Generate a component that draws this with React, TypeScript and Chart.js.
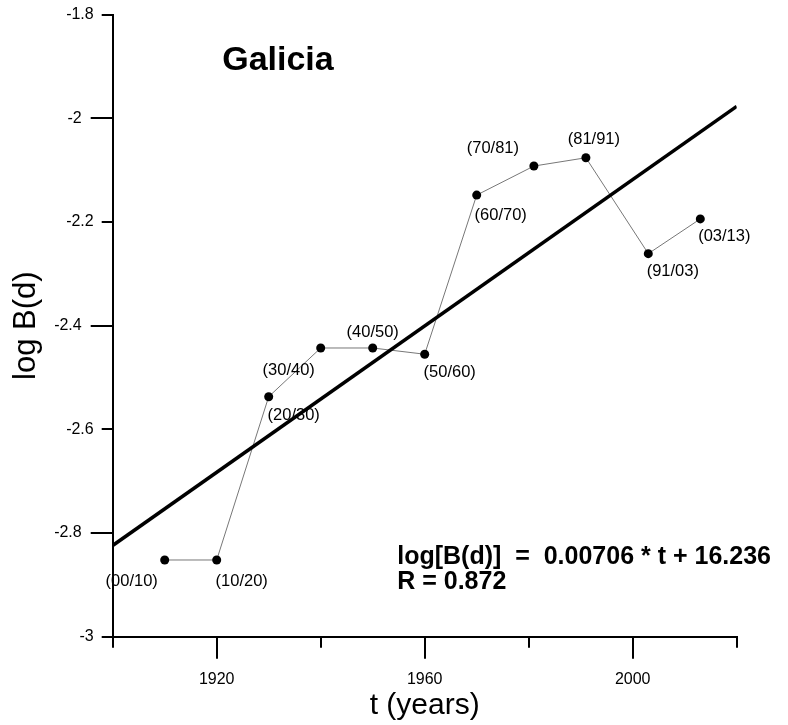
import React, { useEffect, useRef } from 'react';
import { Chart, registerables } from 'chart.js';

Chart.register(...registerables);

// ---- data ----
const periodLabels = ['(00/10)', '(10/20)', '(20/30)', '(30/40)', '(40/50)', '(50/60)', '(60/70)', '(70/81)', '(81/91)', '(91/03)', '(03/13)'];
const years = [1910, 1920, 1930, 1940, 1950, 1960, 1970, 1981, 1991, 2003, 2013];
const logB = [-2.852, -2.852, -2.537, -2.443, -2.443, -2.455, -2.148, -2.092, -2.076, -2.261, -2.194];
const fitYears = [1900, 2020];
const fitLogB = [-2.824, -1.977];
const xTicks = [1900, 1920, 1940, 1960, 1980, 2000, 2020];
const xLabeledTicks = [1920, 1960, 2000];
const yTicks = [-3, -2.8, -2.6, -2.4, -2.2, -2, -1.8];
const yMajorTicks = [-2.8, -2.4, -2];
const titleText = 'Galicia';
const equationLines = ['log[B(d)]  =  0.00706 * t + 16.236', 'R = 0.872'];
const xTitle = 't (years)';
const yTitle = 'log B(d)';

// ---- label placement (pixel offsets from each point) ----
const labelOffsets: [number, number][] = [
  [-33, 21], [25, 21], [25, 19], [-32, 22], [0, -16], [25, 18],
  [24, 20], [-41, -18], [8, -18], [24.5, 18], [24, 18],
];

const FONT = '"Liberation Sans", Arial, Helvetica, sans-serif';
const near = (a: number, b: number) => Math.abs(a - b) < 1e-6;
const isYMajor = (v: number) => yMajorTicks.some((m) => near(m, v));
const isXMajor = (v: number) => xLabeledTicks.some((m) => near(m, v));
const fmtY = (v: number) => String(Number(v.toFixed(1)));

const noMargins = (s: any) => {
  s.paddingTop = 0;
  s.paddingBottom = 0;
  s.paddingLeft = 0;
  s.paddingRight = 0;
};

export default function App() {
  const ref = useRef<HTMLCanvasElement>(null);

  useEffect(() => {
    const canvas = ref.current!;
    const annotate = {
      id: 'annotate',
      afterLayout(chart: any) {
        // let the inner (zero-width) y axis draw its labels to the left of the axis line
        const s = chart.scales.y2;
        if (s) {
          s.left = 0;
          s.width = s.right;
        }
      },
      afterDatasetsDraw(chart: any) {
        const ctx = chart.ctx as CanvasRenderingContext2D;
        const area = chart.chartArea;
        const meta = chart.getDatasetMeta(1);
        ctx.save();
        ctx.fillStyle = '#000';
        ctx.font = `16.5px ${FONT}`;
        ctx.textAlign = 'center';
        ctx.textBaseline = 'middle';
        meta.data.forEach((pt: any, i: number) => {
          ctx.fillText(periodLabels[i], pt.x + labelOffsets[i][0], pt.y + labelOffsets[i][1]);
        });
        ctx.textAlign = 'left';
        ctx.textBaseline = 'alphabetic';
        ctx.font = `bold 34px ${FONT}`;
        ctx.fillText(titleText, area.left + 109.5, area.top + 55);
        ctx.font = `bold 25px ${FONT}`;
        equationLines.forEach((line, i) => {
          ctx.fillText(line, area.left + 284.5, area.top + 549 + i * 25);
        });
        ctx.restore();
      },
    };

    const tickColor = (major: boolean) => (ctx: any) => {
      const v = ctx.tick ? ctx.tick.value : NaN;
      const m = ctx.scale.axis === 'x' ? isXMajor(v) : isYMajor(v);
      return m === major ? '#000' : 'rgba(0,0,0,0)';
    };

    const chart = new Chart(canvas, {
      type: 'scatter',
      data: {
        datasets: [
          {
            label: 'fit',
            data: fitYears.map((x, i) => ({ x, y: fitLogB[i] })),
            showLine: true,
            borderColor: '#000',
            borderWidth: 3.5,
            pointRadius: 0,
            xAxisID: 'x',
            yAxisID: 'y',
          },
          {
            label: 'obs',
            data: years.map((x, i) => ({ x, y: logB[i] })),
            showLine: true,
            borderColor: '#777',
            borderWidth: 1,
            pointRadius: 4.5,
            pointBackgroundColor: '#000',
            pointBorderColor: '#000',
            pointBorderWidth: 0,
            xAxisID: 'x',
            yAxisID: 'y',
          },
        ],
      },
      options: {
        animation: false,
        responsive: false,
        devicePixelRatio: 1,
        events: [],
        layout: { padding: { left: 0, top: 14.7, right: 51.3, bottom: 0 } },
        plugins: { legend: { display: false }, tooltip: { enabled: false }, title: { display: false } },
        scales: {
          x: {
            type: 'linear',
            position: 'bottom',
            weight: 1,
            min: 1900,
            max: 2020,
            afterBuildTicks: (s: any) => { s.ticks = xTicks.map((value) => ({ value })); },
            afterFit: (s: any) => { s.height = 88.3; noMargins(s); },
            grid: { drawOnChartArea: false, drawTicks: true, tickLength: 22, lineWidth: 2, color: tickColor(true) },
            border: { display: true, color: '#000', width: 2 },
            ticks: {
              autoSkip: false,
              maxRotation: 0,
              padding: 11,
              color: '#000',
              font: { family: FONT, size: 16 },
              callback: (v: any) => (isXMajor(Number(v)) ? String(v) : ''),
            },
            title: { display: true, text: xTitle, color: '#000', font: { family: FONT, size: 30 }, padding: { top: 0, bottom: 1 } },
          },
          x2: {
            type: 'linear',
            position: 'bottom',
            weight: 0,
            min: 1900,
            max: 2020,
            afterBuildTicks: (s: any) => { s.ticks = xTicks.map((value) => ({ value })); },
            afterFit: (s: any) => { s.height = 0; noMargins(s); },
            grid: { drawOnChartArea: false, drawTicks: true, tickLength: 11, lineWidth: 2, color: tickColor(false) },
            border: { display: false },
            ticks: { display: false },
          },
          y: {
            type: 'linear',
            position: 'left',
            weight: 1,
            min: -3,
            max: -1.8,
            afterBuildTicks: (s: any) => { s.ticks = yTicks.map((value) => ({ value })); },
            afterFit: (s: any) => { s.width = 112.7; noMargins(s); },
            grid: { drawOnChartArea: false, drawTicks: true, tickLength: 22, lineWidth: 2, color: tickColor(true) },
            border: { display: true, color: '#000', width: 2 },
            ticks: {
              autoSkip: false,
              padding: 9,
              color: '#000',
              font: { family: FONT, size: 16 },
              callback: (v: any) => (isYMajor(Number(v)) ? fmtY(Number(v)) : ''),
            },
            title: { display: true, text: yTitle, color: '#000', font: { family: FONT, size: 31 }, padding: { top: 8, bottom: 0 } },
          },
          y2: {
            type: 'linear',
            position: 'left',
            weight: 0,
            min: -3,
            max: -1.8,
            afterBuildTicks: (s: any) => { s.ticks = yTicks.map((value) => ({ value })); },
            afterFit: (s: any) => { s.width = 0; noMargins(s); },
            grid: { drawOnChartArea: false, drawTicks: true, tickLength: 11, lineWidth: 2, color: tickColor(false) },
            border: { display: false },
            ticks: {
              autoSkip: false,
              padding: 8,
              color: '#000',
              font: { family: FONT, size: 16 },
              callback: (v: any) => (isYMajor(Number(v)) ? '' : fmtY(Number(v))),
            },
          },
        },
      } as any,
      plugins: [annotate],
    });
    return () => chart.destroy();
  }, []);

  return (
    <div style={{ position: 'absolute', left: 0, top: 0, width: 788, height: 725, background: '#fff' }}>
      <canvas ref={ref} width={788} height={725} style={{ display: 'block', width: 788, height: 725 }} />
    </div>
  );
}
